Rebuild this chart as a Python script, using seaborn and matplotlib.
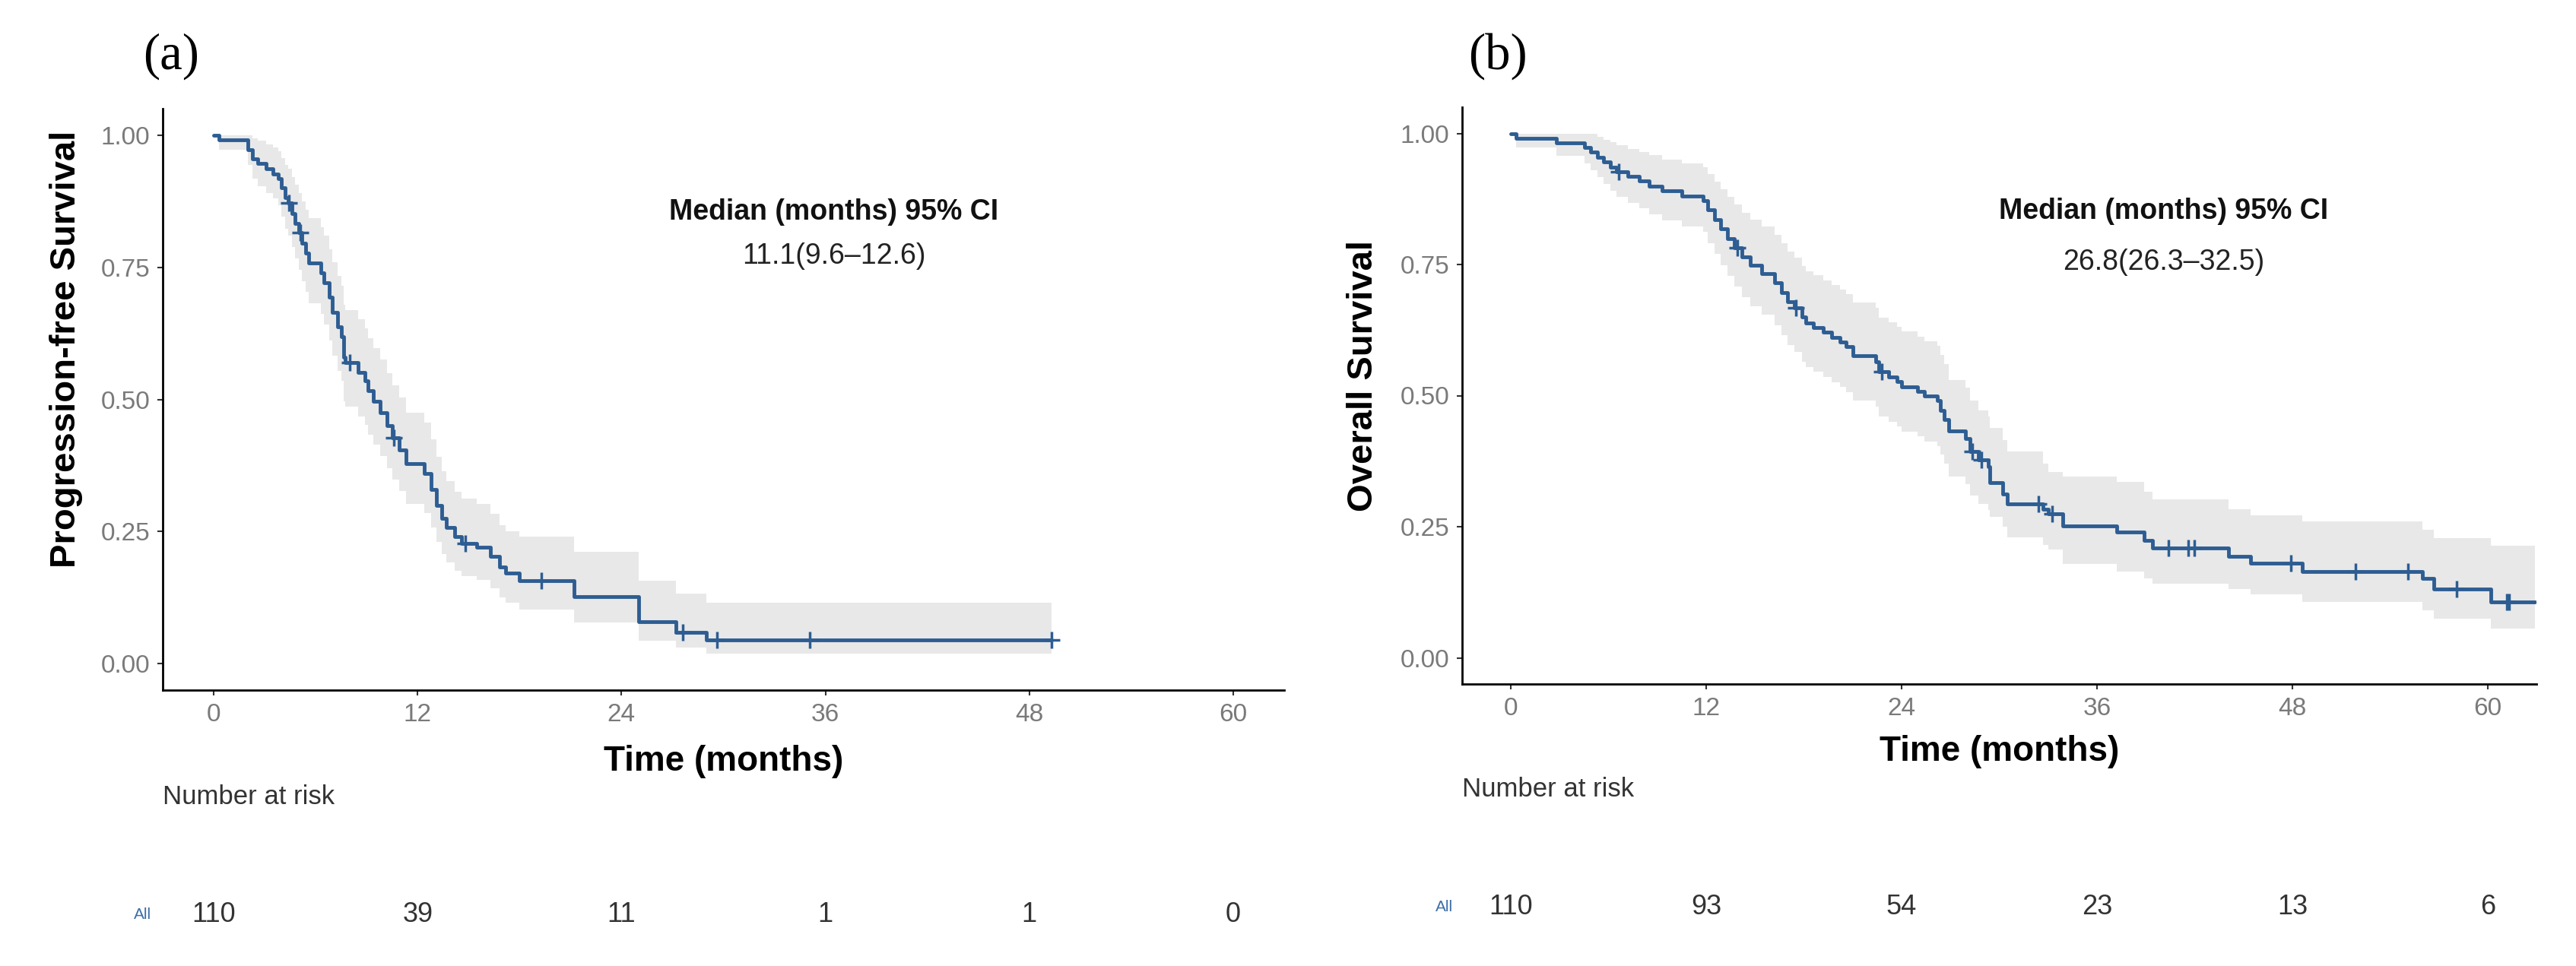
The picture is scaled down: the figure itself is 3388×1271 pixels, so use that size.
import numpy as np
import pandas as pd
import matplotlib
matplotlib.use('Agg')
import matplotlib.pyplot as plt
import matplotlib.transforms as mtransforms
import seaborn as sns

# ---- data ----
# (a) progression-free survival: step times and values
pfs_time = [0, 0.3, 2.0, 2.3, 2.6, 3.1, 3.5, 3.8, 4.0, 4.2, 4.4, 4.6, 4.8, 5.0, 5.2, 5.4, 5.6,
            6.3, 6.5, 6.8, 7.0, 7.3, 7.5, 7.65, 7.75, 8.5, 8.9, 9.1, 9.4, 9.8, 10.2, 10.5, 10.9,
            11.3, 12.4, 12.8, 13.1, 13.4, 13.7, 14.2, 14.6, 15.5, 16.3, 16.8, 17.2, 18.0, 21.2,
            25.0, 27.2, 29.0]
pfs_surv = [1.000, 0.991, 0.973, 0.955, 0.946, 0.936, 0.927, 0.918, 0.900, 0.882, 0.871, 0.852,
            0.833, 0.815, 0.796, 0.777, 0.758, 0.740, 0.721, 0.693, 0.665, 0.637, 0.618, 0.580,
            0.570, 0.551, 0.535, 0.516, 0.497, 0.475, 0.450, 0.428, 0.405, 0.378, 0.360, 0.330,
            0.300, 0.275, 0.258, 0.240, 0.228, 0.220, 0.203, 0.183, 0.171, 0.157, 0.127, 0.080,
            0.060, 0.045]
pfs_lower = [1.000, 0.973, 0.943, 0.917, 0.904, 0.891, 0.880, 0.868, 0.846, 0.823, 0.810, 0.788,
             0.767, 0.745, 0.724, 0.703, 0.682, 0.662, 0.642, 0.612, 0.583, 0.554, 0.535, 0.497,
             0.487, 0.468, 0.452, 0.433, 0.415, 0.393, 0.370, 0.349, 0.327, 0.302, 0.285, 0.257,
             0.230, 0.207, 0.192, 0.176, 0.165, 0.158, 0.143, 0.126, 0.115, 0.102, 0.078, 0.043,
             0.031, 0.019]
pfs_upper = [1.000, 1.000, 1.000, 0.994, 0.989, 0.983, 0.977, 0.970, 0.957, 0.944, 0.936, 0.921,
             0.906, 0.891, 0.875, 0.859, 0.843, 0.826, 0.810, 0.784, 0.759, 0.733, 0.715, 0.679,
             0.669, 0.651, 0.635, 0.616, 0.597, 0.575, 0.550, 0.527, 0.503, 0.475, 0.456, 0.424,
             0.392, 0.364, 0.345, 0.325, 0.312, 0.303, 0.283, 0.262, 0.250, 0.240, 0.211, 0.157,
             0.133, 0.115]
pfs_end = 49.3
pfs_censor = [4.45, 5.1, 8.0, 10.6, 14.8, 19.3, 27.6, 29.6, 35.1, 49.3]

# (b) overall survival
os_time = [0, 0.3, 2.8, 4.5, 4.9, 5.3, 5.7, 6.1, 6.5, 7.2, 7.9, 8.5, 9.3, 10.5, 11.8, 12.1, 12.5,
           12.9, 13.3, 13.7, 14.2, 14.7, 15.4, 16.2, 16.6, 17.0, 17.4, 17.9, 18.1, 18.6, 19.2,
           19.7, 20.2, 20.6, 21.0, 22.4, 22.6, 23.2, 23.7, 24.0, 25.0, 25.4, 26.2, 26.4, 26.6,
           26.9, 27.9, 28.2, 28.7, 29.3, 29.4, 30.2, 30.5, 32.7, 33.0, 33.9, 37.2, 38.9, 39.4,
           44.1, 45.45, 48.6, 56.0, 56.7, 60.2]
os_surv = [1.000, 0.991, 0.982, 0.973, 0.964, 0.955, 0.945, 0.936, 0.927, 0.918, 0.909, 0.900,
           0.890, 0.881, 0.872, 0.854, 0.836, 0.818, 0.800, 0.782, 0.764, 0.748, 0.733, 0.715,
           0.697, 0.679, 0.667, 0.650, 0.639, 0.630, 0.621, 0.611, 0.602, 0.593, 0.576, 0.565,
           0.546, 0.536, 0.527, 0.517, 0.508, 0.499, 0.490, 0.472, 0.454, 0.433, 0.418, 0.394,
           0.377, 0.365, 0.334, 0.313, 0.293, 0.283, 0.274, 0.252, 0.240, 0.224, 0.209, 0.194,
           0.180, 0.165, 0.151, 0.1315, 0.107]
os_lower = [1.000, 0.973, 0.957, 0.943, 0.929, 0.916, 0.903, 0.891, 0.879, 0.868, 0.857, 0.846,
            0.834, 0.823, 0.812, 0.791, 0.770, 0.749, 0.728, 0.708, 0.688, 0.670, 0.654, 0.634,
            0.615, 0.596, 0.583, 0.565, 0.554, 0.545, 0.536, 0.526, 0.517, 0.507, 0.490, 0.479,
            0.460, 0.450, 0.441, 0.431, 0.422, 0.413, 0.404, 0.387, 0.370, 0.345, 0.331, 0.309,
            0.293, 0.282, 0.269, 0.250, 0.230, 0.215, 0.207, 0.179, 0.165, 0.152, 0.142, 0.131,
            0.121, 0.107, 0.091, 0.074, 0.056]
os_upper = [1.000, 1.000, 1.000, 1.000, 0.999, 0.994, 0.988, 0.983, 0.977, 0.971, 0.964, 0.958,
            0.950, 0.943, 0.936, 0.922, 0.908, 0.893, 0.879, 0.864, 0.849, 0.835, 0.822, 0.806,
            0.790, 0.774, 0.763, 0.747, 0.737, 0.729, 0.720, 0.711, 0.702, 0.693, 0.677, 0.667,
            0.649, 0.640, 0.631, 0.622, 0.613, 0.604, 0.595, 0.578, 0.560, 0.530, 0.515, 0.490,
            0.472, 0.460, 0.438, 0.415, 0.394, 0.370, 0.355, 0.346, 0.335, 0.317, 0.302, 0.283,
            0.272, 0.260, 0.244, 0.228, 0.214]
os_end = 62.9
os_censor = [6.6, 13.9, 17.5, 22.8, 28.35, 28.9, 32.4, 33.25, 40.4, 41.6, 42.0, 47.9, 51.9,
             55.1, 58.1, 61.2, 61.3]

risk_times = [0, 12, 24, 36, 48, 60]
pfs_risk = [110, 39, 11, 1, 1, 0]
os_risk = [110, 93, 54, 23, 13, 6]

pfs_median = '11.1(9.6–12.6)'
os_median = '26.8(26.3–32.5)'

LINE = '#2d5d92'
BAND = '#e8e8e8'
TICK_GREY = '#7a7a7a'

sns.set_theme(style='white')
plt.rcParams['font.family'] = ['Liberation Sans', 'DejaVu Sans']

fig = plt.figure(figsize=(33.88, 12.71), dpi=100)


def km_frame(time, surv, lower, upper, end):
    df = pd.DataFrame({'time': time, 'surv': surv, 'lower': lower, 'upper': upper})
    last = df.iloc[[-1]].copy()
    last['time'] = end
    return pd.concat([df, last], ignore_index=True)


def draw_km(ax, df, censor, ylabel, ylab_pos, xlab_y, risk, risk_y, nar_y, all_x,
            median_txt, med_xy):
    ax.fill_between(df['time'], df['lower'], df['upper'], step='post', color=BAND, lw=0)
    sns.lineplot(data=df, x='time', y='surv', drawstyle='steps-post', color=LINE,
                 linewidth=3.5, estimator=None, sort=False, ax=ax)
    # censor marks sit on the step curve
    idx = np.searchsorted(df['time'].values, censor, side='right') - 1
    cens_y = df['surv'].values[idx]
    sns.scatterplot(x=censor, y=cens_y, marker='+', s=240, color=LINE, linewidth=2.5,
                    ax=ax, zorder=4)

    ax.set_xlim(-3, 63)
    ax.set_ylim(-0.05, 1.05)
    ax.set_xticks(risk_times)
    ax.set_yticks([0, 0.25, 0.5, 0.75, 1.0])
    ax.set_yticklabels(['0.00', '0.25', '0.50', '0.75', '1.00'])
    ax.tick_params(axis='both', which='both', direction='out', length=5, width=1.5,
                   color='#333333', labelsize=24, labelcolor=TICK_GREY, pad=7,
                   bottom=True, left=True)
    sns.despine(ax=ax)
    for side in ['left', 'bottom']:
        ax.spines[side].set_color('black')
        ax.spines[side].set_linewidth(2)

    ax.set_xlabel('Time (months)', fontsize=33, fontweight='bold', color='black')
    ax.xaxis.label.set_va('center')
    ax.xaxis.set_label_coords(0.5, xlab_y)
    ax.set_ylabel(ylabel, fontsize=34, fontweight='bold', color='black')
    ax.yaxis.label.set_va('center')
    ax.yaxis.set_label_coords(*ylab_pos)

    ax.text(med_xy[0], med_xy[1], 'Median (months) 95% CI', fontsize=27, fontweight='bold',
            ha='center', va='center', color='#111111')
    ax.text(med_xy[0], med_xy[2], median_txt, fontsize=27, ha='center', va='center',
            color='#222222')

    # number-at-risk table under the axis
    trans = mtransforms.blended_transform_factory(ax.transData, ax.transAxes)
    ax.text(0, nar_y, 'Number at risk', transform=ax.transAxes, fontsize=25, ha='left',
            va='center', color='#333333')
    ax.text(all_x, risk_y, 'All', transform=trans, fontsize=15, ha='center', va='center',
            color='#3d6fa8', clip_on=False)
    for t, n in zip(risk_times, risk):
        ax.text(t, risk_y, str(n), transform=trans, fontsize=26, ha='center', va='center',
                color='#333333', clip_on=False)


ax_a = fig.add_axes([214 / 3388, 1 - 908 / 1271, (1689 - 214) / 3388, (908 - 143) / 1271])
ax_b = fig.add_axes([1923 / 3388, 1 - 900 / 1271, (3336 - 1923) / 3388, (900 - 141) / 1271])

draw_km(ax_a, km_frame(pfs_time, pfs_surv, pfs_lower, pfs_upper, pfs_end), pfs_censor,
        'Progression-free Survival', (-0.086, 0.587), -0.123, pfs_risk, -0.386, -0.184, -4.2,
        pfs_median, (36.5, 0.854, 0.771))
draw_km(ax_b, km_frame(os_time, os_surv, os_lower, os_upper, os_end), os_censor,
        'Overall Survival', (-0.092, 0.534), -0.117, os_risk, -0.387, -0.182, -4.1,
        os_median, (40.1, 0.851, 0.754))

fig.text(225 / 3388, 1 - 74 / 1271, '(a)', fontsize=48, ha='center', va='center',
         family=['Liberation Serif', 'DejaVu Serif'], color='black')
fig.text(1970 / 3388, 1 - 74 / 1271, '(b)', fontsize=48, ha='center', va='center',
         family=['Liberation Serif', 'DejaVu Serif'], color='black')

fig.savefig('out.png', dpi=100, facecolor='white')
